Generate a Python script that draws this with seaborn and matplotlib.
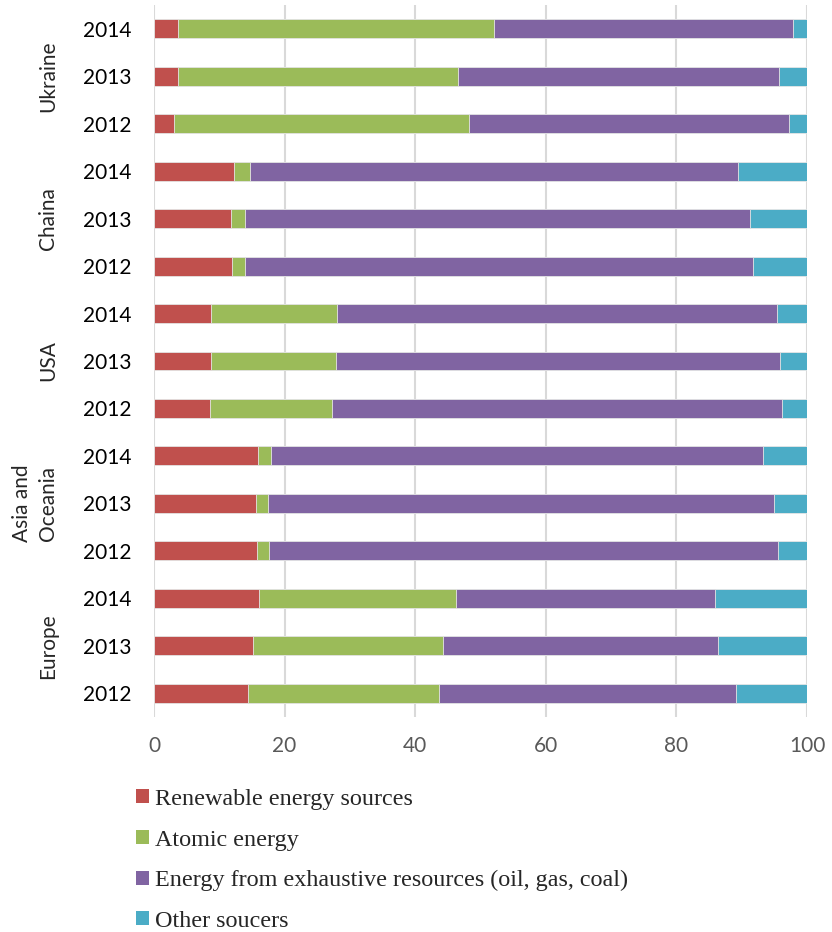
import pandas as pd
import seaborn as sns
import matplotlib.pyplot as plt
from matplotlib.patches import Patch

# bars listed top to bottom
regions = ["Ukraine", "Chaina", "USA", "Asia and\nOceania", "Europe"]
years = ["2014", "2013", "2012"]

renewable = [3.6, 3.6, 3.0, 12.3, 11.8, 11.9, 8.8, 8.7, 8.5, 15.9, 15.6, 15.8, 16.1, 15.2, 14.4]
atomic = [48.5, 42.9, 45.3, 2.4, 2.1, 2.1, 19.2, 19.2, 18.8, 2.0, 1.8, 1.8, 30.1, 29.1, 29.2]
exhaustive = [45.8, 49.2, 48.9, 74.7, 77.4, 77.8, 67.4, 67.9, 68.8, 75.4, 77.6, 78.0, 39.7, 42.1, 45.6]
other = [2.1, 4.3, 2.8, 10.6, 8.7, 8.2, 4.6, 4.2, 3.9, 6.7, 5.0, 4.4, 14.1, 13.6, 10.8]

series_names = ["Renewable energy sources", "Atomic energy",
                "Energy from exhaustive resources (oil, gas, coal)", "Other soucers"]
colors = ["#C0504D", "#9BBB59", "#8064A2", "#4BACC6"]


def build_frame():
    keys = [f"{r} {y}" for r in regions for y in years]
    df = pd.DataFrame({"key": keys, "year": [y for r in regions for y in years]})
    cum = 0
    for name, vals in zip(series_names, [renewable, atomic, exhaustive, other]):
        cum = cum + pd.Series(vals)
        df[name] = cum.values
    return df


def generate_chart():
    df = build_frame()
    sns.set_style("white")
    plt.rcParams["font.family"] = ["Lato", "DejaVu Sans"]

    fig = plt.figure(figsize=(8.32, 9.32), dpi=100)
    ax = fig.add_axes([154 / 832, 1 - 717 / 932, (807 - 154) / 832, (717 - 5) / 932])

    # draw cumulative totals from the outermost segment inward
    for name, col in reversed(list(zip(series_names, colors))):
        sns.barplot(data=df, x=name, y="key", orient="h", color=col, width=0.4,
                    saturation=1, edgecolor="#e6e6e6", linewidth=0.6, ax=ax, zorder=3)

    ax.set_xlim(0, 100)
    ax.set_ylim(14.5, -0.5)
    ax.set_xticks(range(0, 101, 20))
    ax.set_yticks(range(len(df)))
    ax.set_yticklabels(df["year"])
    ax.tick_params(axis="both", length=0, labelsize=15, colors="#000000")
    ax.tick_params(axis="x", pad=14, colors="#595959")
    ax.tick_params(axis="y", pad=16)
    ax.set_xlabel("")
    ax.set_ylabel("")
    ax.grid(axis="x", color="#d9d9d9", linewidth=1.5, zorder=0)
    ax.set_axisbelow(True)
    for s in ax.spines.values():
        s.set_visible(False)

    # region labels, centred on each group of three bars
    for i, r in enumerate(regions):
        yc = 3 * i + 1
        ax.annotate(r, xy=(0, yc), xycoords=("axes fraction", "data"),
                    xytext=(-96, 0), textcoords="offset pixels",
                    rotation=90, ha="right", va="center", fontsize=15,
                    multialignment="center", linespacing=1.4)

    handles = [Patch(facecolor=c, edgecolor="none") for c in colors]
    fig.legend(handles, series_names, loc="upper left",
               bbox_to_anchor=(136 / 832, 1 - 789 / 932), frameon=False,
               prop={"family": "Liberation Serif", "size": 17.4},
               handlelength=0.52, handleheight=0.52, handletextpad=0.25,
               labelspacing=0.81, borderpad=0, borderaxespad=0)

    fig.savefig("out.png", dpi=100)


if __name__ == '__main__':
    generate_chart()
